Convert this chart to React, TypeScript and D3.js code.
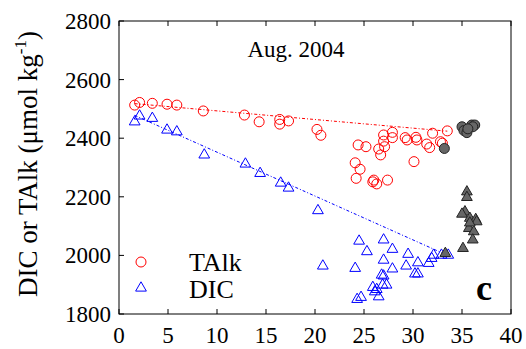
import React from 'react'
import * as d3 from 'd3'

// salinity (x) vs concentration (y)
const talk: [number, number][] = [
  [1.6, 2513], [2.1, 2522], [3.4, 2519], [4.9, 2516], [5.9, 2513], [8.6, 2493],
  [12.8, 2479], [14.3, 2456], [16.4, 2464], [16.4, 2448], [17.3, 2459], [20.2, 2430],
  [20.6, 2410], [24.4, 2377], [25.2, 2371], [24.1, 2316], [24.6, 2294], [24.2, 2263],
  [26.0, 2257], [26.3, 2244], [25.9, 2251], [27.4, 2257], [26.5, 2363], [27.0, 2411],
  [27.0, 2390], [27.1, 2371], [26.7, 2343], [27.9, 2420], [27.9, 2402], [29.2, 2402],
  [29.4, 2394], [30.3, 2403], [30.4, 2394], [30.1, 2320], [31.4, 2380], [31.7, 2368],
  [32.0, 2417], [32.8, 2388], [33.0, 2383], [33.5, 2425]
]
const talkGrey: [number, number][] = [
  [33.2, 2365], [35.0, 2439], [35.2, 2426], [35.5, 2419], [36.0, 2445], [36.3, 2445],
  [36.1, 2439], [35.6, 2432]
]
const dic: [number, number][] = [
  [1.6, 2456], [2.1, 2476], [3.4, 2468], [4.9, 2428], [5.9, 2422], [8.7, 2343],
  [12.9, 2312], [14.4, 2280], [16.5, 2247], [17.3, 2230], [20.3, 2153], [20.8, 1964],
  [24.5, 2049], [25.3, 2013], [24.1, 1956], [27.0, 2053], [27.9, 2021], [27.0, 1984],
  [27.9, 1954], [26.8, 1933], [27.3, 1899], [25.9, 1891], [26.3, 1884], [26.1, 1876],
  [26.5, 1859], [24.3, 1850], [24.7, 1857], [26.9, 1899], [27.0, 1930], [29.5, 2004],
  [29.3, 1964], [30.5, 1975], [30.2, 1937], [30.5, 1937], [31.6, 1973], [31.9, 1990],
  [32.1, 2001], [32.9, 2001], [33.6, 2001]
]
const dicGrey: [number, number][] = [
  [33.3, 2007], [35.5, 2217], [35.5, 2198], [35.3, 2149], [35.0, 2141], [35.8, 2127],
  [36.4, 2123], [36.5, 2115], [35.7, 2092], [36.2, 2081], [36.1, 2053], [35.1, 2024],
  [35.8, 2111]
]
// mixing lines
const talkLine: [number, number][] = [[1.6, 2518], [33.5, 2424]]
const dicLine: [number, number][] = [[1.6, 2478], [33.2, 2005]]

const xTicks = [0, 5, 10, 15, 20, 25, 30, 35, 40]
const yTicks = [1800, 2000, 2200, 2400, 2600, 2800]

const W = 526, H = 349
const margin = { left: 119, right: 15, top: 21, bottom: 35 }
const serif = { fontFamily: "'Liberation Serif', 'DejaVu Serif', serif" }

export default function App() {
  const x = d3.scaleLinear().domain([0, 40]).range([margin.left, W - margin.right])
  const y = d3.scaleLinear().domain([1800, 2800]).range([H - margin.bottom, margin.top])
  const line = d3.line<[number, number]>().x(d => x(d[0])).y(d => y(d[1]))
  const tri = d3.symbol(d3.symbolTriangle, 50)()

  const [x0, x1] = x.range()
  const [y0, y1] = y.range()

  return (
    <svg width={W} height={H} style={{ position: 'absolute', left: 0, top: 0 }}>
      <rect x={0} y={0} width={W} height={H} fill="#fff" />

      {/* frame + inward ticks */}
      <rect x={x0} y={y1} width={x1 - x0} height={y0 - y1} fill="none" stroke="#000" strokeWidth={1} />
      {xTicks.map(t => (
        <g key={'x' + t}>
          <line x1={x(t)} x2={x(t)} y1={y0} y2={y0 - 5} stroke="#000" />
          <line x1={x(t)} x2={x(t)} y1={y1} y2={y1 + 5} stroke="#000" />
          <text x={x(t)} y={y0 + 29} textAnchor="middle" fontSize={23} style={serif}>{t}</text>
        </g>
      ))}
      {yTicks.map(t => (
        <g key={'y' + t}>
          <line x1={x0} x2={x0 + 5} y1={y(t)} y2={y(t)} stroke="#000" />
          <text x={x0 - 8} y={y(t) + 8} textAnchor="end" fontSize={23} style={serif}>{t}</text>
        </g>
      ))}

      <text transform="translate(37,164) rotate(-90)" textAnchor="middle" fontSize={27} style={serif}>
        DIC or TAlk (μmol kg<tspan dy={-11} fontSize={17}>-1</tspan><tspan dy={11}>)</tspan>
      </text>

      <text x={296} y={57} textAnchor="middle" fontSize={23} style={serif}>Aug. 2004</text>
      <text x={476} y={300} fontSize={36} fontWeight="bold" style={serif}>c</text>

      {/* mixing lines */}
      <path d={line(talkLine) ?? ''} fill="none" stroke="#ff0000" strokeWidth={1} strokeDasharray="3,2,1,2" />
      <path d={line(dicLine) ?? ''} fill="none" stroke="#0000ff" strokeWidth={1} strokeDasharray="3,2,1,2" />

      {talk.map((d, i) => (
        <circle key={'t' + i} cx={x(d[0])} cy={y(d[1])} r={5} fill="none" stroke="#ff0000" strokeWidth={1} />
      ))}
      {dic.map((d, i) => (
        <path key={'d' + i} d={tri ?? ''} transform={`translate(${x(d[0])},${y(d[1])})`}
          fill="none" stroke="#0000ff" strokeWidth={1} />
      ))}
      {talkGrey.map((d, i) => (
        <circle key={'tg' + i} cx={x(d[0])} cy={y(d[1])} r={5} fill="#666" stroke="#222" strokeWidth={1} />
      ))}
      {dicGrey.map((d, i) => (
        <path key={'dg' + i} d={tri ?? ''} transform={`translate(${x(d[0])},${y(d[1])})`}
          fill="#666" stroke="#222" strokeWidth={1} />
      ))}

      {/* legend */}
      <circle cx={141} cy={262} r={5} fill="none" stroke="#ff0000" />
      <path d={tri ?? ''} transform="translate(141,288)" fill="none" stroke="#0000ff" />
      <text x={189} y={271} fontSize={26} style={serif}>TAlk</text>
      <text x={189} y={298} fontSize={26} style={serif}>DIC</text>
    </svg>
  )
}
